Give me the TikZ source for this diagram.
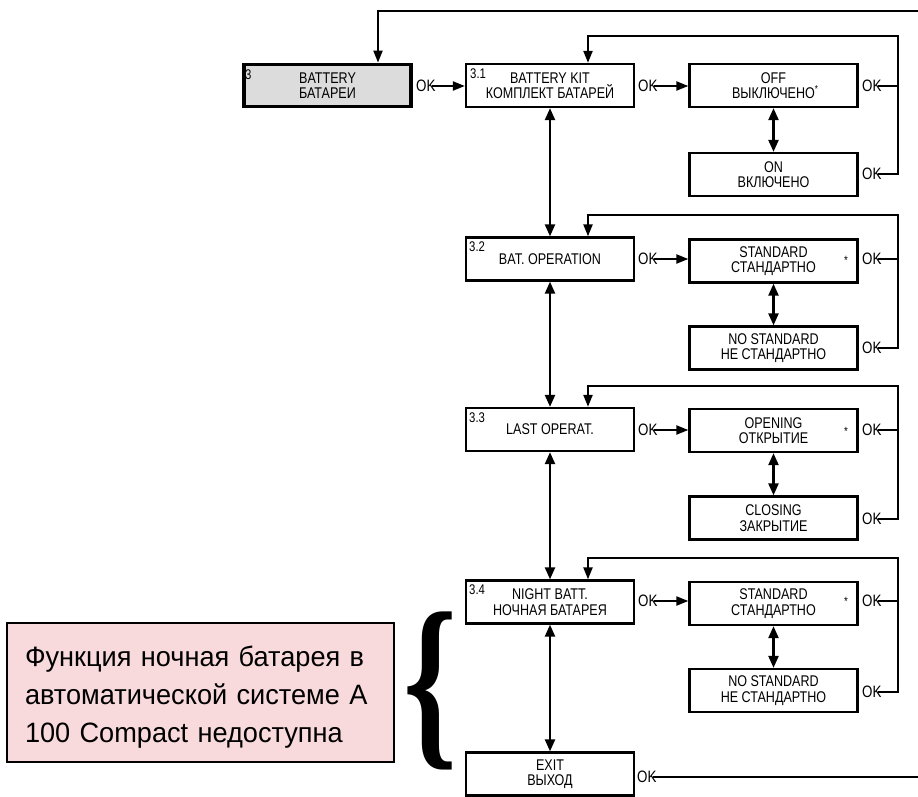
\documentclass[tikz,border=0pt]{standalone}
\usepackage{fontspec}
\usepackage{graphicx}
\setmainfont[FakeStretch=0.81]{Liberation Sans}
\newfontfamily\notefont[FakeStretch=0.97]{Liberation Sans}
\newfontfamily\bracefont{Liberation Serif}
\usetikzlibrary{arrows.meta}
\definecolor{boxgray}{HTML}{DCDCDC}
\definecolor{notepink}{HTML}{F9DADC}
\begin{document}
\begin{tikzpicture}[x=1pt,y=-1pt,
  box/.style={draw, line width=2.3pt, minimum width=168pt, minimum height=43pt, inner sep=0pt, align=center, font=\fontsize{15.5}{15.5}\selectfont},
  oklab/.style={inner sep=0pt, anchor=west, font=\fontsize{16.5}{16.5}\selectfont},
  num/.style={inner sep=0pt, anchor=north west, font=\fontsize{14}{14}\selectfont},
  star/.style={inner sep=0pt, font=\fontsize{12}{12}\selectfont},
  arr/.style={line width=2.1pt, -{Triangle[length=12pt,width=9pt]}},
  darr/.style={line width=2.3pt, {Triangle[length=12pt,width=10pt]}-{Triangle[length=12pt,width=10pt]}},
  ln/.style={line width=2.1pt},
  notebox/.style={draw, line width=1.8pt, fill=notepink, minimum width=387pt, minimum height=139pt, inner sep=0pt},
  notetext/.style={inner sep=0pt, text width=370pt, align=left, font=\notefont\fontsize{28}{38}\selectfont}
]
\useasboundingbox (0,0) rectangle (918,796);

% main box
\node[box, fill=boxgray, line width=3.8pt, minimum width=167pt, minimum height=42pt] (b3) at (327.5,85.5) {BATTERY\\БАТАРЕИ};
\node[num] (n3) at (245,70) {3};

% left column
\node[box] (b31) at (550,85.5) {BATTERY KIT\\КОМПЛЕКТ БАТАРЕЙ};
\node[box] (b32) at (550,259) {BAT. OPERATION};
\node[box] (b33) at (550,429.5) {LAST OPERAT.};
\node[box] (b34) at (550,602) {NIGHT BATT.\\НОЧНАЯ БАТАРЕЯ};
\node[box] (bex) at (550,774) {EXIT\\ВЫХОД};
\node[num] (n31) at (470,69) {3.1};
\node[num] (n32) at (469,242) {3.2};
\node[num] (n33) at (469,413) {3.3};
\node[num] (n34) at (469,585) {3.4};

% right column
\node[box] (off) at (773.5,85.5) {OFF\\ВЫКЛЮЧЕНО\rlap{\raisebox{6pt}{\fontsize{10}{10}\selectfont *}}};
\node[box] (on) at (773.5,174.5) {ON\\ВКЛЮЧЕНО};
\node[box] (std1) at (773.5,261) {STANDARD\\СТАНДАРТНО};
\node[box] (nstd1) at (773.5,348) {NO STANDARD\\НЕ СТАНДАРТНО};
\node[box] (open) at (773.5,430.5) {OPENING\\ОТКРЫТИЕ};
\node[box] (close) at (773.5,518) {CLOSING\\ЗАКРЫТИЕ};
\node[box] (std2) at (773.5,603.5) {STANDARD\\СТАНДАРТНО};
\node[box] (nstd2) at (773.5,690.5) {NO STANDARD\\НЕ СТАНДАРТНО};
\node[star] (s1) at (846,260) {*};
\node[star] (s2) at (846,431) {*};
\node[star] (s3) at (846,601) {*};

% OK labels
\node[oklab] (ok3) at (416,86) {OK};
\node[oklab] (ok31) at (638,86) {OK};
\node[oklab] (ok32) at (638,259) {OK};
\node[oklab] (ok33) at (638,430) {OK};
\node[oklab] (ok34) at (638,601) {OK};
\node[oklab] (okex) at (637,777) {OK};
\node[oklab] (okoff) at (862,86) {OK};
\node[oklab] (okon) at (862,174) {OK};
\node[oklab] (oks1) at (862,259) {OK};
\node[oklab] (okn1) at (862,348) {OK};
\node[oklab] (oko) at (862,430) {OK};
\node[oklab] (okc) at (862,519) {OK};
\node[oklab] (oks2) at (862,601) {OK};
\node[oklab] (okn2) at (862,692) {OK};

% forward arrows
\draw[arr] ([xshift=-4pt]ok3.east) -- (ok3.east -| b31.west);
\draw[arr] ([xshift=-4pt]ok31.east) -- (ok31.east -| off.west);
\draw[arr] ([xshift=-4pt]ok32.east) -- (ok32.east -| std1.west);
\draw[arr] ([xshift=-4pt]ok33.east) -- (ok33.east -| open.west);
\draw[arr] ([xshift=-4pt]ok34.east) -- (ok34.east -| std2.west);

% vertical double arrows
\draw[darr] (b31.south) -- (b32.north);
\draw[darr] (b32.south) -- (b33.north);
\draw[darr] (b33.south) -- (b34.north);
\draw[darr] (b34.south) -- (bex.north);
\draw[darr] (off.south) -- (on.north);
\draw[darr] (std1.south) -- (nstd1.north);
\draw[darr] (open.south) -- (close.north);
\draw[darr] (std2.south) -- (nstd2.north);

% return loops
\coordinate (c1) at (898,36);  \coordinate (d1) at (588,36);
\coordinate (c2) at (898,215); \coordinate (d2) at (588,215);
\coordinate (c3) at (898,386); \coordinate (d3) at (588,386);
\coordinate (c4) at (898,558); \coordinate (d4) at (588,558);
\draw[arr] ([xshift=-4pt]okon.east) -- (okon.east -| c1) -- (c1) -- (d1) -- (d1 |- b31.north);
\draw[ln] ([xshift=-4pt]okoff.east) -- (okoff.east -| c1);
\draw[arr] ([xshift=-4pt]okn1.east) -- (okn1.east -| c2) -- (c2) -- (d2) -- (d2 |- b32.north);
\draw[ln] ([xshift=-4pt]oks1.east) -- (oks1.east -| c2);
\draw[arr] ([xshift=-4pt]okc.east) -- (okc.east -| c3) -- (c3) -- (d3) -- (d3 |- b33.north);
\draw[ln] ([xshift=-4pt]oko.east) -- (oko.east -| c3);
\draw[arr] ([xshift=-4pt]okn2.east) -- (okn2.east -| c4) -- (c4) -- (d4) -- (d4 |- b34.north);
\draw[ln] ([xshift=-4pt]oks2.east) -- (oks2.east -| c4);

% exit loop back to main
\coordinate (t1) at (930,11); \coordinate (t2) at (378,11);
\draw[arr] ([xshift=-4pt]okex.east) -- (okex.east -| t1) -- (t1) -- (t2) -- (t2 |- b3.north);

% note
\node[notebox] (note) at (200.5,692.5) {};
\node[notetext] (notet) at (210,697) {Функция ночная батарея в\\автоматической системе А\\100 Compact недоступна};
\node[inner sep=0pt] (brace) at (431,690.5) {\resizebox*{54pt}{158pt}{\bracefont\bfseries\{}};
\end{tikzpicture}
\end{document}
